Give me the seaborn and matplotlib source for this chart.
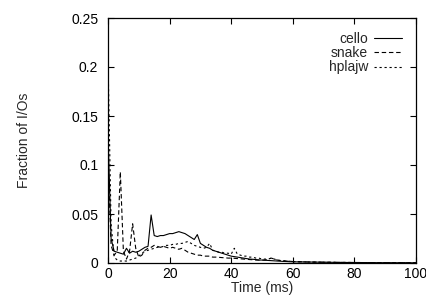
import seaborn as sns
import matplotlib
matplotlib.use("Agg")
import matplotlib.pyplot as plt
import pandas as pd

# time in ms (1 ms bins up to 60, then coarser)
time_ms = list(range(0, 61)) + [65, 70, 75, 80, 85, 90, 95, 100]

cello = [0.132, 0.025, 0.012, 0.011, 0.010, 0.009, 0.015, 0.010, 0.012, 0.011,
         0.012, 0.014, 0.016, 0.017, 0.049, 0.028, 0.027, 0.028, 0.028, 0.029,
         0.030, 0.030, 0.031, 0.032, 0.031, 0.030, 0.028, 0.026, 0.024, 0.029,
         0.020, 0.018, 0.016, 0.015, 0.013, 0.012, 0.011, 0.010, 0.009, 0.008,
         0.007, 0.0065, 0.006, 0.0055, 0.005, 0.0045, 0.004, 0.0038, 0.0035, 0.003,
         0.003, 0.0028, 0.0026, 0.0024, 0.0022, 0.002, 0.0018, 0.0016, 0.0015, 0.0013,
         0.0012, 0.001, 0.0008, 0.0006, 0.0005, 0.0004, 0.0003, 0.0003, 0.0002]

snake = [0.105, 0.018, 0.008, 0.012, 0.093, 0.012, 0.004, 0.012, 0.040, 0.015,
         0.006, 0.008, 0.013, 0.015, 0.016, 0.018, 0.017, 0.016, 0.017, 0.016,
         0.015, 0.016, 0.015, 0.014, 0.015, 0.013, 0.011, 0.010, 0.009, 0.008,
         0.008, 0.007, 0.007, 0.007, 0.006, 0.006, 0.0058, 0.0055, 0.0053, 0.005,
         0.005, 0.0048, 0.0045, 0.0043, 0.004, 0.0038, 0.0035, 0.0033, 0.003, 0.003,
         0.003, 0.003, 0.004, 0.005, 0.004, 0.003, 0.0025, 0.0022, 0.002, 0.0018,
         0.0015, 0.001, 0.0008, 0.0006, 0.0005, 0.0004, 0.0003, 0.0003, 0.0002]

hplajw = [0.208, 0.040, 0.006, 0.003, 0.002, 0.002, 0.002, 0.003, 0.004, 0.005,
          0.007, 0.010, 0.012, 0.013, 0.014, 0.015, 0.016, 0.016, 0.017, 0.018,
          0.018, 0.019, 0.019, 0.020, 0.020, 0.021, 0.022, 0.020, 0.018, 0.017,
          0.016, 0.015, 0.016, 0.020, 0.013, 0.012, 0.011, 0.011, 0.010, 0.010,
          0.009, 0.015, 0.009, 0.008, 0.007, 0.007, 0.006, 0.006, 0.005, 0.005,
          0.004, 0.004, 0.004, 0.005, 0.004, 0.003, 0.0025, 0.0022, 0.002, 0.0018,
          0.0015, 0.001, 0.0008, 0.0006, 0.0005, 0.0004, 0.0003, 0.0003, 0.0002]

sns.set_style("ticks")
plt.rcParams['font.family'] = ['Liberation Sans', 'DejaVu Sans']
plt.rcParams['font.size'] = 10

df = pd.DataFrame({"time": time_ms, "cello": cello, "snake": snake, "hplajw": hplajw})
long = df.melt(id_vars="time", var_name="trace", value_name="frac")

fig = plt.figure(figsize=(4.27, 2.96), dpi=100)
ax = fig.add_axes([108 / 427, 1 - 263 / 296, 308 / 427, 245 / 296])

styles = {"cello": "-", "snake": (0, (4, 2.5)), "hplajw": (0, (2, 2.5))}
for name in ["cello", "snake", "hplajw"]:
    sub = long[long["trace"] == name]
    sns.lineplot(data=sub, x="time", y="frac", ax=ax, color="black",
                 linewidth=0.8, linestyle=styles[name], label=name)

ax.set_xlim(0, 100)
ax.set_ylim(0, 0.25)
ax.set_xticks([0, 20, 40, 60, 80, 100])
ax.set_yticks([0, 0.05, 0.1, 0.15, 0.2, 0.25])
ax.set_yticklabels(["0", "0.05", "0.1", "0.15", "0.2", "0.25"])
ax.tick_params(direction="in", top=True, right=True, length=4, width=0.8,
               colors="black", labelsize=10)
ax.tick_params(axis="x", pad=3)
ax.tick_params(axis="y", pad=7)
for sp in ax.spines.values():
    sp.set_color("black")
    sp.set_linewidth(0.9)

ax.set_xlabel("Time (ms)", fontsize=10, labelpad=0)
ax.set_ylabel("Fraction of I/Os", fontsize=10)
ax.yaxis.set_label_coords(-0.25, 0.5)

leg = ax.legend(loc="upper right", frameon=False, markerfirst=False,
                fontsize=10, handlelength=2.0, labelspacing=0.02,
                borderaxespad=0.6, handletextpad=0.45)

fig.savefig("out.png", dpi=100)
